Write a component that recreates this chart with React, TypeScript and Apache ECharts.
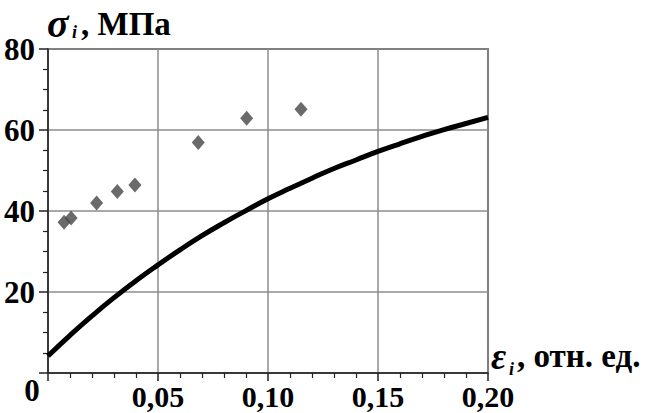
import React, { useEffect, useRef } from "react";
import * as echarts from "echarts";

// Curve σi(εi)
const curveX = [0, 0.01, 0.02, 0.03, 0.04, 0.05, 0.06, 0.07, 0.08, 0.09, 0.1, 0.11, 0.12, 0.13, 0.14, 0.15, 0.16, 0.17, 0.18, 0.19, 0.2];
const curveY = [4.2, 9.3, 14.1, 18.6, 22.8, 26.7, 30.4, 33.9, 37.1, 40.1, 43.0, 45.6, 48.1, 50.5, 52.6, 54.7, 56.6, 58.4, 60.1, 61.6, 63.1];

// Experimental points
const pointsX = [0.0073, 0.0105, 0.0221, 0.0315, 0.0395, 0.0683, 0.0903, 0.115];
const pointsY = [37.2, 38.3, 42.0, 44.8, 46.4, 56.9, 62.9, 65.1];

const xTickValues = [0, 0.05, 0.1, 0.15, 0.2];
const xTickLabels = ["0", "0,05", "0,10", "0,15", "0,20"];
const yTickValues = [0, 20, 40, 60, 80];
const yTickLabels = ["0", "20", "40", "60", "80"];

const FONT = "Liberation Serif";

export default function App() {
  const ref = useRef<HTMLDivElement>(null);
  useEffect(() => {
    if (!ref.current) return;
    const chart = echarts.init(ref.current, undefined, { renderer: "svg" });
    const pick = (vals: number[], labels: string[], v: number) => {
      const i = vals.findIndex((t) => Math.abs(t - v) < 1e-9);
      return i > 0 ? labels[i] : "";
    };
    const txt = (x: number, y: number, text: string, fontSize: number, italic = false, align = "left") => ({
      type: "text",
      x,
      y,
      style: {
        text,
        fill: "#000",
        fontFamily: FONT,
        fontWeight: "bold",
        fontStyle: italic ? "italic" : "normal",
        fontSize,
        textAlign: align,
        textVerticalAlign: "middle",
      },
    });
    chart.setOption({
      animation: false,
      backgroundColor: "#fff",
      grid: {
        left: 48,
        right: 157,
        top: 49,
        bottom: 40,
        show: true,
        borderColor: "#222",
        borderWidth: 1.5,
        backgroundColor: "transparent",
      },
      xAxis: {
        type: "value",
        min: 0,
        max: 0.2,
        interval: 0.05,
        axisLine: { show: true, onZero: false, lineStyle: { color: "#222", width: 1.5 } },
        axisTick: { show: true, inside: false, length: 8, lineStyle: { color: "#222", width: 1.5 } },
        minorTick: { show: true, splitNumber: 5, length: 5, lineStyle: { color: "#222", width: 1.2 } },
        splitLine: { show: true, lineStyle: { color: "#8c8c8c", width: 1.5 } },
        axisLabel: {
          margin: 8,
          color: "#000",
          fontFamily: FONT,
          fontWeight: "bold",
          fontSize: 30,
          formatter: (v: number) => pick(xTickValues, xTickLabels, v),
        },
      },
      yAxis: {
        type: "value",
        min: 0,
        max: 80,
        interval: 20,
        axisLine: { show: true, onZero: false, lineStyle: { color: "#222", width: 1.5 } },
        axisTick: { show: true, inside: false, length: 9, lineStyle: { color: "#222", width: 1.5 } },
        minorTick: { show: true, splitNumber: 4, length: 5, lineStyle: { color: "#222", width: 1.2 } },
        splitLine: { show: true, lineStyle: { color: "#8c8c8c", width: 1.5 } },
        axisLabel: {
          margin: 13,
          color: "#000",
          fontFamily: FONT,
          fontWeight: "bold",
          fontSize: 31,
          padding: [6, 0, 0, 0],
          formatter: (v: number) => pick(yTickValues, yTickLabels, v),
        },
      },
      series: [
        {
          type: "line",
          data: curveX.map((x, i) => [x, curveY[i]]),
          smooth: true,
          showSymbol: false,
          lineStyle: { color: "#000", width: 5 },
          z: 3,
        },
        {
          type: "scatter",
          data: pointsX.map((x, i) => [x, pointsY[i]]),
          symbol: "diamond",
          symbolSize: [13, 15],
          itemStyle: { color: "#454545" },
          z: 4,
        },
      ],
      graphic: [
        txt(32, 390, "0", 31, false, "center"),
        txt(47, 23, "σ", 40, true),
        txt(72, 32, "i", 18, true),
        txt(81, 24, ", МПа", 33),
        txt(491, 356, "ε", 37, true),
        txt(509, 369, "i", 18, true),
        txt(517, 356, ", отн. ед.", 33),
      ],
    });
    return () => chart.dispose();
  }, []);
  return <div ref={ref} style={{ position: "fixed", left: 0, top: 0, width: 645, height: 413 }} />;
}
